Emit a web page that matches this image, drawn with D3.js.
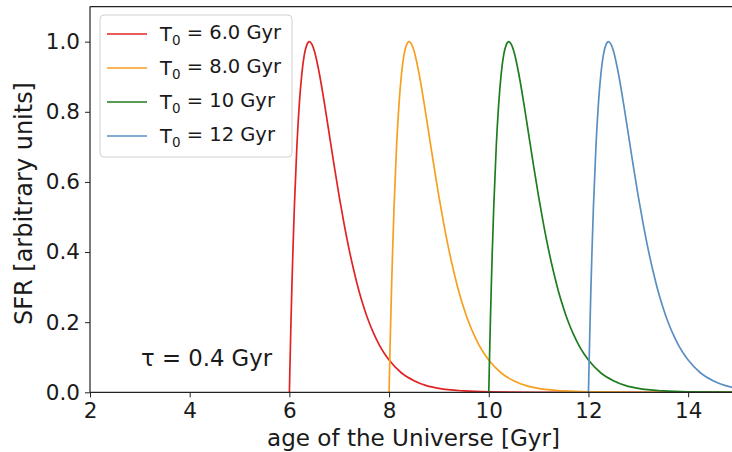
<!DOCTYPE html>
<html>
<head>
<meta charset="utf-8">
<script src="https://cdn.jsdelivr.net/npm/d3@7"></script>
<style>
  html, body { margin: 0; padding: 0; background: #fff; }
  svg { display: block; font-family: "DejaVu Sans", sans-serif; }
</style>
</head>
<body>
<svg id="chart" width="732" height="452"></svg>
<script>
// Delayed star-formation histories, one per onset time T0 (tau = 0.4 Gyr)
const seriesLabels = ["6.0 Gyr", "8.0 Gyr", "10 Gyr", "12 Gyr"];
const seriesColors = ["#e02424", "#f7a01f", "#1f7d1f", "#5b8fc2"];

const age6  = [6.0, 6.01, 6.02, 6.03, 6.05, 6.07, 6.1, 6.15, 6.2, 6.25, 6.3, 6.35, 6.4, 6.45, 6.5, 6.55, 6.6, 6.65, 6.7, 6.75, 6.8, 6.9, 7.0, 7.1, 7.2, 7.3, 7.4, 7.5, 7.6, 7.7, 7.8, 7.9, 8.0, 8.25, 8.5, 8.75, 9.0, 9.5, 10.0, 11.0, 15.0];
const sfr6  = [0, 0.066, 0.129, 0.189, 0.300, 0.399, 0.529, 0.701, 0.824, 0.909, 0.963, 0.991, 1.0, 0.993, 0.974, 0.945, 0.910, 0.870, 0.827, 0.782, 0.736, 0.645, 0.558, 0.478, 0.406, 0.343, 0.287, 0.240, 0.199, 0.165, 0.136, 0.112, 0.092, 0.055, 0.033, 0.019, 0.011, 0.0038, 0.0012, 0.0001, 0];
const age8  = [8.0, 8.01, 8.02, 8.03, 8.05, 8.07, 8.1, 8.15, 8.2, 8.25, 8.3, 8.35, 8.4, 8.45, 8.5, 8.55, 8.6, 8.65, 8.7, 8.75, 8.8, 8.9, 9.0, 9.1, 9.2, 9.3, 9.4, 9.5, 9.6, 9.7, 9.8, 9.9, 10.0, 10.25, 10.5, 10.75, 11.0, 11.5, 12.0, 13.0, 15.0];
const sfr8  = [0, 0.066, 0.129, 0.189, 0.300, 0.399, 0.529, 0.701, 0.824, 0.909, 0.963, 0.991, 1.0, 0.993, 0.974, 0.945, 0.910, 0.870, 0.827, 0.782, 0.736, 0.645, 0.558, 0.478, 0.406, 0.343, 0.287, 0.240, 0.199, 0.165, 0.136, 0.112, 0.092, 0.055, 0.033, 0.019, 0.011, 0.0038, 0.0012, 0.0001, 0];
const age10 = [10.0, 10.01, 10.02, 10.03, 10.05, 10.07, 10.1, 10.15, 10.2, 10.25, 10.3, 10.35, 10.4, 10.45, 10.5, 10.55, 10.6, 10.65, 10.7, 10.75, 10.8, 10.9, 11.0, 11.1, 11.2, 11.3, 11.4, 11.5, 11.6, 11.7, 11.8, 11.9, 12.0, 12.25, 12.5, 12.75, 13.0, 13.5, 14.0, 15.0];
const sfr10 = [0, 0.066, 0.129, 0.189, 0.300, 0.399, 0.529, 0.701, 0.824, 0.909, 0.963, 0.991, 1.0, 0.993, 0.974, 0.945, 0.910, 0.870, 0.827, 0.782, 0.736, 0.645, 0.558, 0.478, 0.406, 0.343, 0.287, 0.240, 0.199, 0.165, 0.136, 0.112, 0.092, 0.055, 0.033, 0.019, 0.011, 0.0038, 0.0012, 0.0001];
const age12 = [12.0, 12.01, 12.02, 12.03, 12.05, 12.07, 12.1, 12.15, 12.2, 12.25, 12.3, 12.35, 12.4, 12.45, 12.5, 12.55, 12.6, 12.65, 12.7, 12.75, 12.8, 12.9, 13.0, 13.1, 13.2, 13.3, 13.4, 13.5, 13.6, 13.7, 13.8, 13.9, 14.0, 14.25, 14.5, 14.75, 15.0];
const sfr12 = [0, 0.066, 0.129, 0.189, 0.300, 0.399, 0.529, 0.701, 0.824, 0.909, 0.963, 0.991, 1.0, 0.993, 0.974, 0.945, 0.910, 0.870, 0.827, 0.782, 0.736, 0.645, 0.558, 0.478, 0.406, 0.343, 0.287, 0.240, 0.199, 0.165, 0.136, 0.112, 0.092, 0.055, 0.033, 0.019, 0.011];

const xTicks = [2, 4, 6, 8, 10, 12, 14];
const yTicks = [0.0, 0.2, 0.4, 0.6, 0.8, 1.0];

const series = [
  { age: age6,  sfr: sfr6 },
  { age: age8,  sfr: sfr8 },
  { age: age10, sfr: sfr10 },
  { age: age12, sfr: sfr12 }
].map((s, i) => ({
  label: seriesLabels[i],
  color: seriesColors[i],
  points: s.age.map((a, j) => [a, s.sfr[j]])
}));

const svg = d3.select("#chart");
const plot = { left: 90, right: 738, top: 6.6, bottom: 392.3 };
const ink = "#1a1a1a";

const x = d3.scaleLinear().domain([2, 15]).range([plot.left, plot.right]);
const y = d3.scaleLinear().domain([0, 1.1]).range([plot.bottom, plot.top]);

// Scale a text element's font so that it spans the given length
function fitText(sel, length) {
  const base = parseFloat(sel.style("font-size"));
  const w = sel.node().getComputedTextLength();
  sel.style("font-size", (base * length / w).toFixed(2) + "px");
}

svg.append("defs").append("clipPath").attr("id", "plot-clip")
  .append("rect")
  .attr("x", plot.left).attr("y", plot.top)
  .attr("width", plot.right - plot.left).attr("height", plot.bottom - plot.top);

// Curves
const line = d3.line()
  .x(d => x(d[0]))
  .y(d => y(d[1]))
  .curve(d3.curveMonotoneX);

const curves = svg.append("g").attr("clip-path", "url(#plot-clip)");
series.forEach(s => {
  curves.append("path")
    .datum(s.points)
    .attr("fill", "none")
    .attr("stroke", s.color)
    .attr("stroke-width", 1.7)
    .attr("d", line);
});

// Axes
const tickFont = 21.5;
const xAxis = svg.append("g")
  .attr("transform", `translate(0,${plot.bottom})`)
  .call(d3.axisBottom(x).tickValues(xTicks).tickFormat(d3.format("d")).tickSize(5).tickPadding(3));
const yAxis = svg.append("g")
  .attr("transform", `translate(${plot.left},0)`)
  .call(d3.axisLeft(y).tickValues(yTicks).tickFormat(d3.format(".1f")).tickSize(5).tickPadding(5));

[xAxis, yAxis].forEach(g => {
  g.select(".domain").remove();
  g.selectAll(".tick line").attr("stroke", "#222").attr("stroke-width", 1);
  g.selectAll(".tick text")
    .attr("fill", ink)
    .style("font-size", tickFont + "px")
    .style("font-family", "'DejaVu Sans', sans-serif");
});
xAxis.selectAll(".tick text").attr("dy", "0.82em");

// Spines (left, top, bottom)
const spines = svg.append("g").attr("stroke", "#222").attr("stroke-width", 1.2);
spines.append("line").attr("x1", plot.left).attr("x2", plot.left).attr("y1", plot.top).attr("y2", plot.bottom);
spines.append("line").attr("x1", plot.left).attr("x2", plot.right).attr("y1", plot.top).attr("y2", plot.top);
spines.append("line").attr("x1", plot.left).attr("x2", plot.right).attr("y1", plot.bottom).attr("y2", plot.bottom);

// Axis labels
const xLabel = svg.append("text")
  .attr("x", 413.5)
  .attr("y", 446)
  .attr("text-anchor", "middle")
  .attr("fill", ink)
  .style("font-size", "20px")
  .text("age of the Universe [Gyr]");
fitText(xLabel, 293);

const yLabel = svg.append("text")
  .attr("transform", `translate(32,203.5) rotate(-90)`)
  .attr("text-anchor", "middle")
  .attr("fill", ink)
  .style("font-size", "20px")
  .text("SFR [arbitrary units]");
fitText(yLabel, 243);

// Annotation
const tauLabel = svg.append("text")
  .attr("x", 141)
  .attr("y", y(0.075))
  .attr("fill", ink)
  .style("font-size", "20px")
  .text("τ = 0.4 Gyr");
fitText(tauLabel, 131);

// Legend
const legend = svg.append("g").attr("transform", "translate(100,15)");
legend.append("rect")
  .attr("width", 192).attr("height", 142)
  .attr("rx", 4).attr("ry", 4)
  .attr("fill", "#fff").attr("fill-opacity", 0.85)
  .attr("stroke", "#d0d0d0").attr("stroke-width", 1);

series.forEach((s, i) => {
  const row = legend.append("g").attr("transform", `translate(0,${19 + i * 34})`);
  row.append("line")
    .attr("x1", 7).attr("x2", 47)
    .attr("stroke", s.color).attr("stroke-width", 1.7);
  const t = row.append("text")
    .attr("x", 60).attr("y", 0).attr("dy", "0.36em")
    .attr("fill", ink)
    .style("font-size", "19.5px");
  t.append("tspan").text("T");
  t.append("tspan").attr("dy", "0.3em").style("font-size", "13.5px").text("0");
  t.append("tspan").attr("dy", "-0.3em").text(" = " + s.label);
});
</script>
</body>
</html>
